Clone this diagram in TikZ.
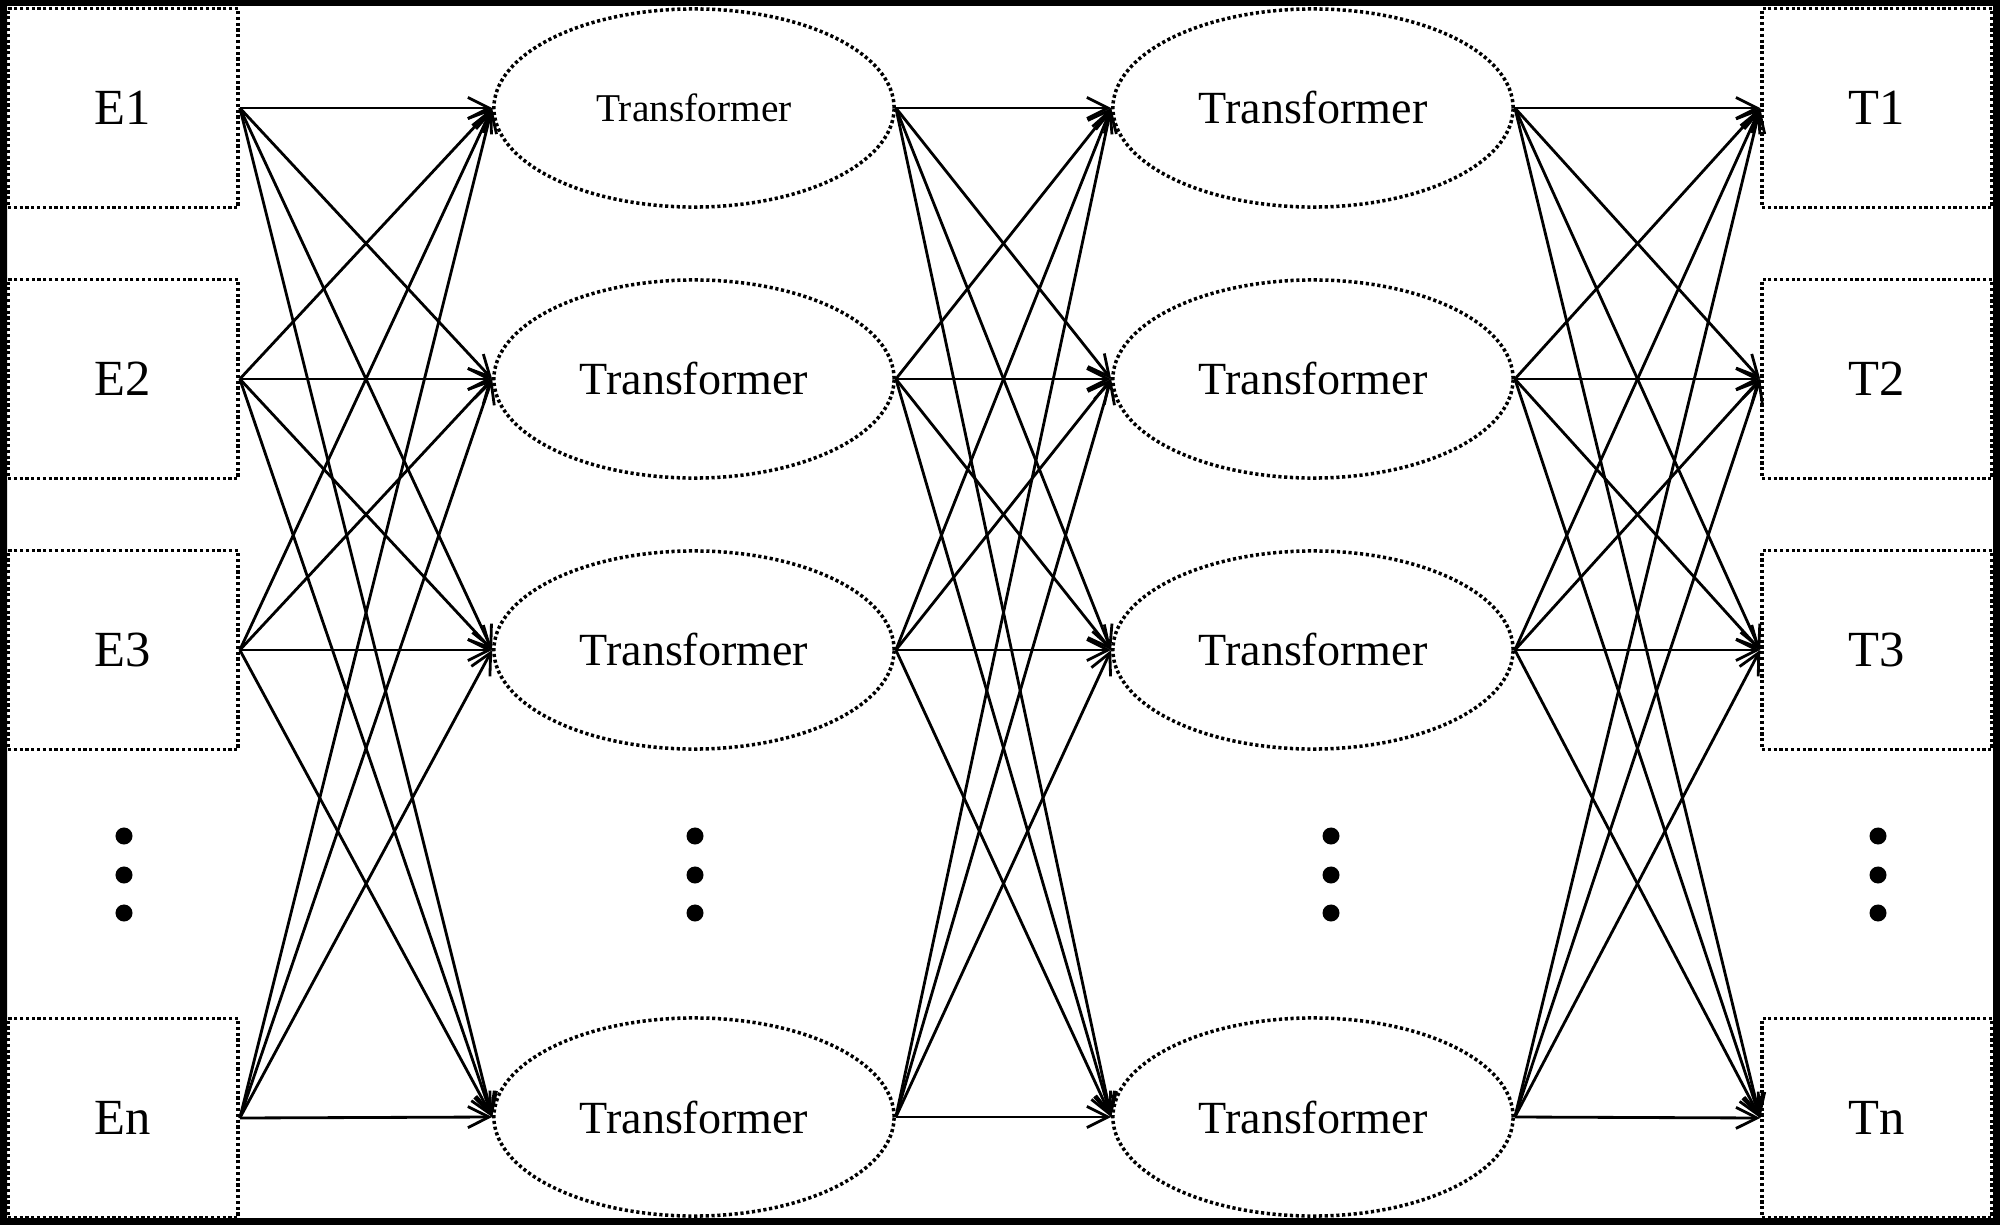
\documentclass[tikz,border=0pt]{standalone}
\usepackage{fontspec}
\setmainfont{Liberation Serif}
\usetikzlibrary{shapes.geometric,arrows.meta}
\begin{document}
\begin{tikzpicture}[x=0.01cm,y=-0.01cm,
  dotline/.style={line width=1pt,dash pattern=on 0.9pt off 0.75pt},
  tokbox/.style={draw,dotline,rectangle,minimum width=2.3cm,minimum height=1.99cm,inner sep=0pt,font=\fontsize{14.4}{17}\selectfont},
  trf/.style={draw,dotline,ellipse,minimum width=4.0cm,minimum height=1.98cm,inner sep=0pt,font=\fontsize{13.1}{15}\selectfont},
  arr/.style={line width=0.8pt,-{Straight Barb[length=6pt,width=6pt]}},
  vdot/.style={circle,fill=black,inner sep=0pt,minimum size=0.17cm}]
\useasboundingbox (0,0) rectangle (2000,1225);
\fill[black,even odd rule] (0,0) rectangle (2000,1225) (7,6) rectangle (1993,1218);
% input boxes
\node[tokbox] (e1) at (123,108) {\raisebox{-2pt}{E1}};
\node[tokbox] (e2) at (123,379) {\raisebox{-2pt}{E2}};
\node[tokbox] (e3) at (123,650) {\raisebox{-2pt}{E3}};
\node[tokbox] (en) at (123,1118) {\raisebox{-2pt}{En}};
% first transformer column
\node[trf,font=\fontsize{11.2}{13}\selectfont] (a1) at (694,108) {Transformer};
\node[trf] (a2) at (694,379) {Transformer};
\node[trf] (a3) at (694,650) {Transformer};
\node[trf] (an) at (694,1117) {Transformer};
% second transformer column
\node[trf] (b1) at (1313,108) {Transformer};
\node[trf] (b2) at (1313,379) {Transformer};
\node[trf] (b3) at (1313,650) {Transformer};
\node[trf] (bn) at (1313,1117) {Transformer};
% output boxes
\node[tokbox] (t1) at (1877,108) {\raisebox{-2pt}{T1}};
\node[tokbox] (t2) at (1877,379) {\raisebox{-2pt}{T2}};
\node[tokbox] (t3) at (1877,650) {\raisebox{-2pt}{T3}};
\node[tokbox] (tn) at (1877,1118) {\raisebox{-2pt}{Tn}};
% vertical ellipsis dots
\foreach \c/\x in {e/124,a/695,b/1331,t/1878}{
  \node[vdot] (\c d1) at (\x,836) {};
  \node[vdot] (\c d2) at (\x,875) {};
  \node[vdot] (\c d3) at (\x,913) {};
}
% connections
\foreach \s in {e1,e2,e3,en}
  \foreach \t in {a1,a2,a3,an}
    \draw[arr] (\s.east) -- (\t.west);
\foreach \s in {a1,a2,a3,an}
  \foreach \t in {b1,b2,b3,bn}
    \draw[arr] (\s.east) -- (\t.west);
\foreach \s in {b1,b2,b3,bn}
  \foreach \t in {t1,t2,t3,tn}
    \draw[arr] (\s.east) -- (\t.west);
\end{tikzpicture}
\end{document}
